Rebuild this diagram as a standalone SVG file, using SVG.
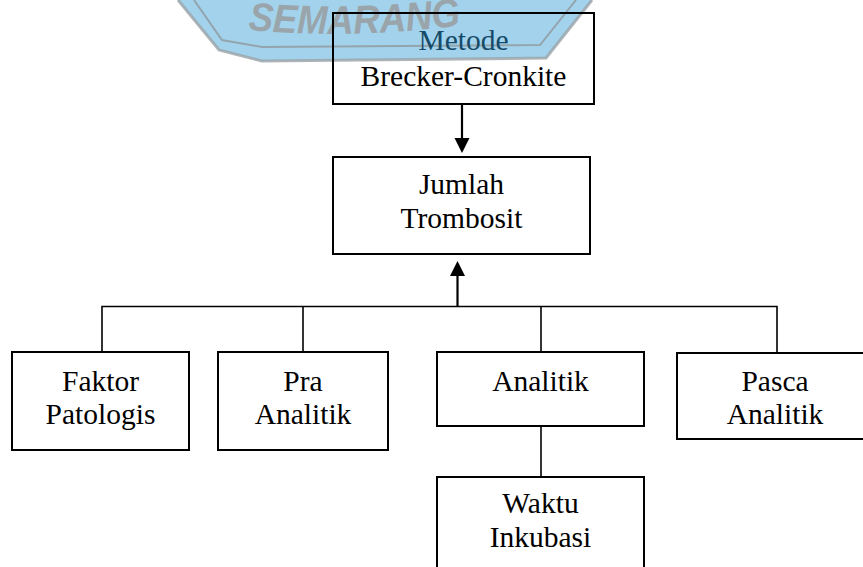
<svg xmlns="http://www.w3.org/2000/svg" width="863" height="567" viewBox="0 0 863 567">
<style>
  .box { fill: none; stroke: #000; stroke-width: 2; }
  .lbl { font-family: "Liberation Serif", "Times New Roman", serif; font-size: 29.5px; fill: #000; text-anchor: middle; }
  .conn { fill: none; stroke: #000; stroke-width: 1.6; }
  .arrow { fill: none; stroke: #000; stroke-width: 2.2; marker-end: url(#head); }
  .wm { font-family: "Liberation Sans", Arial, sans-serif; font-weight: bold; font-style: italic; font-size: 40px; fill: #9aa5ab; }
</style>
<defs>
  <marker id="head" markerUnits="userSpaceOnUse" markerWidth="16" markerHeight="16" refX="0" refY="7.5" orient="auto" viewBox="0 0 16 15">
    <path d="M0,0 L15,7.5 L0,15 z" fill="#000"/>
  </marker>
  <path id="arc" d="M248,30 Q356,40 470,24"/>
</defs>
<rect width="863" height="567" fill="#fff"/>
<g id="watermark">
  <polygon points="178,0 219,50 262,61 546,58 592,0" fill="#a3d3ec"/>
  <polyline points="178,0 219,50 262,61 546,58 592,0" fill="none" stroke="#9aa3a7" stroke-width="3" opacity="0.8"/>
  <polyline points="194,0 222,40 262,47 540,45 576,0" fill="none" stroke="#8f999e" stroke-width="2" opacity="0.8"/>
  <text class="wm"><textPath href="#arc" textLength="214" lengthAdjust="spacingAndGlyphs">SEMARANG</textPath></text>
</g>
<g id="connectors">
  <line class="arrow" x1="462" y1="104" x2="462" y2="138"/>
  <line class="arrow" x1="457.5" y1="307" x2="457.5" y2="276"/>
  <polyline class="conn" points="102,352 102,306.5 777,306.5 777,352"/>
  <line class="conn" x1="303" y1="306.5" x2="303" y2="352"/>
  <line class="conn" x1="541" y1="306.5" x2="541" y2="352"/>
  <line class="conn" x1="541" y1="426" x2="541" y2="477"/>
</g>
<g id="metode">
  <rect class="box" x="333" y="13" width="261" height="91"/>
  <text class="lbl" x="463.5" y="50" style="fill:#154a68">Metode</text>
  <text class="lbl" x="463.5" y="86">Brecker-Cronkite</text>
</g>
<g id="jumlah">
  <rect class="box" x="333" y="157" width="257" height="97"/>
  <text class="lbl" x="461.5" y="194">Jumlah</text>
  <text class="lbl" x="461.5" y="228">Trombosit</text>
</g>
<g id="faktor">
  <rect class="box" x="12" y="352" width="177" height="98"/>
  <text class="lbl" x="100.5" y="391">Faktor</text>
  <text class="lbl" x="100.5" y="424">Patologis</text>
</g>
<g id="pra">
  <rect class="box" x="218" y="352" width="170" height="98"/>
  <text class="lbl" x="303" y="391">Pra</text>
  <text class="lbl" x="303" y="424">Analitik</text>
</g>
<g id="analitik">
  <rect class="box" x="437" y="352" width="207" height="74"/>
  <text class="lbl" x="540.5" y="391">Analitik</text>
</g>
<g id="pasca">
  <rect class="box" x="677" y="353" width="197" height="86"/>
  <text class="lbl" x="775" y="391">Pasca</text>
  <text class="lbl" x="775" y="424">Analitik</text>
</g>
<g id="waktu">
  <rect class="box" x="437" y="477" width="207" height="100"/>
  <text class="lbl" x="540.5" y="513">Waktu</text>
  <text class="lbl" x="540.5" y="547">Inkubasi</text>
</g>
</svg>
